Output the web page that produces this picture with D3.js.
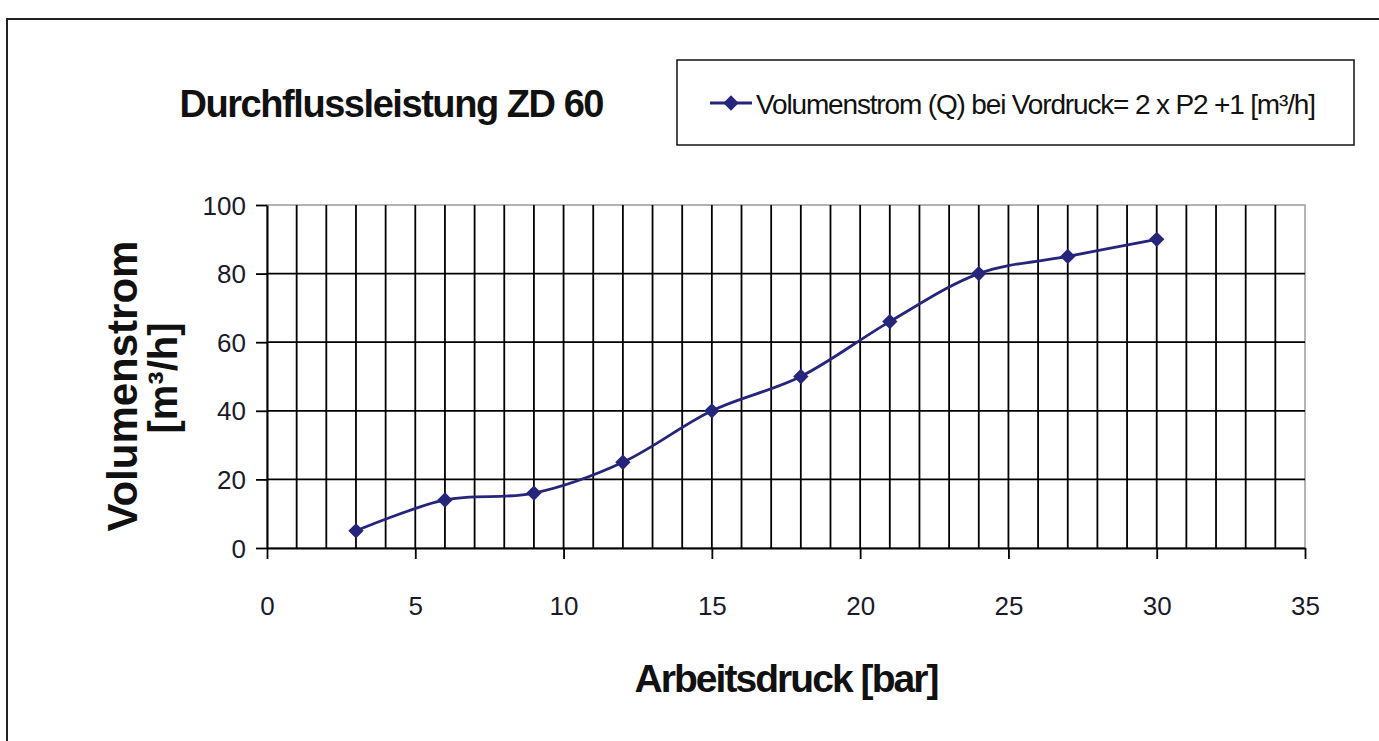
<!DOCTYPE html>
<html><head><meta charset="utf-8">
<script src="https://cdn.jsdelivr.net/npm/d3@7"></script>
<style>body{margin:0;background:#fff;} svg{display:block;} text{font-family:"Liberation Sans",Arial,sans-serif;}</style>
</head><body>
<svg id="c" width="1379" height="741"></svg>
<script>
const pressure = [3, 6, 9, 12, 15, 18, 21, 24, 27, 30];
const flow = [5, 14, 16, 25, 40, 50, 66, 80, 85, 90];
const xTicks = [0, 5, 10, 15, 20, 25, 30, 35];
const yTicks = [0, 20, 40, 60, 80, 100];
const title = "Durchflussleistung ZD 60";
const legendLabel = "Volumenstrom (Q) bei Vordruck= 2 x P2 +1  [m³/h]";
const xTitle = "Arbeitsdruck [bar]";
const yTitle = ["Volumenstrom", "[m³/h]"];

const svg = d3.select("#c");
const navy = "#25257c";
const x = d3.scaleLinear().domain([0, 35]).range([267, 1305]);
const y = d3.scaleLinear().domain([0, 100]).range([548, 205]);

// outer frame
svg.append("path").attr("d", "M7,741 V19 H1379").attr("fill", "none").attr("stroke", "#222").attr("stroke-width", 2);

// plot border (gray)
svg.append("rect").attr("x", x(0)).attr("y", y(100)).attr("width", x(35) - x(0)).attr("height", y(0) - y(100))
  .attr("fill", "none").attr("stroke", "#9a9a9a").attr("stroke-width", 1.5);

// vertical gridlines every 1
svg.append("g").selectAll("line").data(d3.range(1, 35)).join("line")
  .attr("x1", d => x(d)).attr("x2", d => x(d)).attr("y1", y(100)).attr("y2", y(0))
  .attr("stroke", "#000").attr("stroke-width", 1.8);
// horizontal gridlines
svg.append("g").selectAll("line").data(yTicks.filter(d => d > 0 && d < 100)).join("line")
  .attr("x1", x(0)).attr("x2", x(35)).attr("y1", d => y(d)).attr("y2", d => y(d))
  .attr("stroke", "#000").attr("stroke-width", 1.8);

// axes
const xAxis = svg.append("g").attr("transform", `translate(0,${y(0)})`)
  .call(d3.axisBottom(x).tickValues(xTicks).tickSize(11).tickSizeOuter(0).tickPadding(38).tickFormat(d3.format("d")));
const yAxis = svg.append("g").attr("transform", `translate(${x(0)},0)`)
  .call(d3.axisLeft(y).tickValues(yTicks).tickSize(11).tickSizeOuter(0).tickPadding(10).tickFormat(d3.format("d")));
[xAxis, yAxis].forEach(a => {
  a.select(".domain").attr("stroke", "#000").attr("stroke-width", 2);
  a.selectAll(".tick line").attr("stroke", "#000").attr("stroke-width", 1.8);
  a.selectAll(".tick text").attr("font-size", 26).attr("fill", "#1a1a2a")
    .attr("font-family", "Liberation Sans Narrow, Liberation Sans, Arial, sans-serif");
});
yAxis.selectAll(".tick text").attr("dy", "0.35em");

// line
const line = d3.line().x((d, i) => x(pressure[i])).y(d => y(d)).curve(d3.curveCardinal.tension(0));
svg.append("path").datum(flow).attr("d", line).attr("fill", "none").attr("stroke", navy).attr("stroke-width", 2.8);
const diamond = d3.symbol().type(d3.symbolDiamond2).size(150);
svg.append("g").selectAll("path").data(flow).join("path")
  .attr("transform", (d, i) => `translate(${x(pressure[i])},${y(d)})`).attr("d", diamond).attr("fill", navy);

// title
svg.append("text").attr("x", 392).attr("y", 117).attr("text-anchor", "middle").attr("font-size", 38).attr("font-weight", "bold")
  .attr("fill", "#111").attr("textLength", 425).attr("lengthAdjust", "spacing").text(title);

// legend
svg.append("rect").attr("x", 677).attr("y", 60).attr("width", 677).attr("height", 85).attr("fill", "#fff").attr("stroke", "#111").attr("stroke-width", 1.5);
svg.append("line").attr("x1", 710).attr("x2", 752).attr("y1", 103).attr("y2", 103).attr("stroke", navy).attr("stroke-width", 2.8);
svg.append("path").attr("transform", "translate(731,103)").attr("d", diamond).attr("fill", navy);
svg.append("text").attr("x", 756).attr("y", 114).attr("font-size", 28).attr("fill", "#111")
  .attr("textLength", 560).attr("lengthAdjust", "spacing").text(legendLabel);

// axis titles
svg.append("text").attr("x", 787).attr("y", 692).attr("text-anchor", "middle").attr("font-size", 39).attr("font-weight", "bold")
  .attr("fill", "#111").attr("textLength", 305).attr("lengthAdjust", "spacing").text(xTitle);
const yt = svg.append("g").attr("transform", "translate(0,386) rotate(-90)");
yt.append("text").attr("x", 0).attr("y", 137).attr("text-anchor", "middle").attr("font-size", 42).attr("font-weight", "bold")
  .attr("fill", "#111").text(yTitle[0]);
yt.append("text").attr("x", 8).attr("y", 177).attr("text-anchor", "middle").attr("font-size", 40).attr("font-weight", "bold")
  .attr("fill", "#111").text(yTitle[1]);
</script>
</body></html>
